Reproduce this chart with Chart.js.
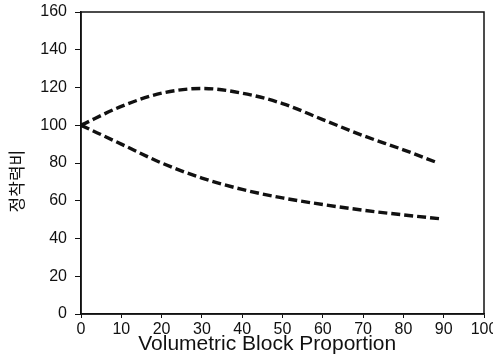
<!DOCTYPE html>
<html>
<head>
<meta charset="utf-8">
<script src="https://cdn.jsdelivr.net/npm/chart.js@4"></script>
<style>
html,body{margin:0;padding:0;background:#fff;}
#wrap{width:493px;height:363px;}
</style>
</head>
<body>
<div id="wrap"><canvas id="c" width="493" height="363"></canvas></div>
<script>
const upperX = [0, 10, 20, 30, 40, 50, 60, 70, 80, 88];
const upperY = [100, 110, 117, 119.5, 117, 111.5, 103, 94.5, 87, 80.5];
const lowerX = [0, 10, 20, 30, 40, 50, 60, 70, 80, 89];
const lowerY = [100, 90, 80, 72, 66, 61.5, 58, 55, 52.5, 50.5];
const xTitle = 'Volumetric Block Proportion';
const yTitle = '정착력비';

const toPts = (xs, ys) => xs.map((x, i) => ({x: x, y: ys[i]}));

const frame = {
  id: 'frame',
  afterDatasetsDraw(chart) {
    const {ctx, chartArea: a} = chart;
    ctx.save();
    ctx.strokeStyle = '#111';
    ctx.lineWidth = 1.5;
    ctx.strokeRect(a.left, a.top, a.right - a.left, a.bottom - a.top);
    ctx.fillStyle = '#111';
    // x-axis title
    ctx.font = '21px "Liberation Sans"';
    ctx.textAlign = 'center';
    ctx.textBaseline = 'middle';
    ctx.fillText(xTitle, a.left + 0.462 * (a.right - a.left), a.bottom + 30);
    // y-axis title
    ctx.translate(17, a.top + 0.56 * (a.bottom - a.top));
    ctx.rotate(-Math.PI / 2);
    ctx.font = '17px "Noto Sans CJK KR"';
    ctx.fillText(yTitle, 0, 0);
    ctx.restore();
  }
};

const lineStyle = {
  showLine: true, borderColor: '#111', borderWidth: 3.4, borderDash: [9, 4],
  pointRadius: 0, tension: 0.4, fill: false, cubicInterpolationMode: 'monotone'
};

new Chart(document.getElementById('c'), {
  type: 'scatter',
  data: {
    datasets: [
      Object.assign({data: toPts(upperX, upperY)}, lineStyle),
      Object.assign({data: toPts(lowerX, lowerY)}, lineStyle)
    ]
  },
  options: {
    responsive: false,
    animation: false,
    layout: {padding: {top: 12, right: 9, left: 0, bottom: 0}},
    plugins: {legend: {display: false}, tooltip: {enabled: false}},
    scales: {
      x: {
        type: 'linear', min: 0, max: 100,
        ticks: {stepSize: 10, color: '#111', padding: 2, maxRotation: 0,
                font: {family: 'Liberation Sans', size: 16}},
        grid: {display: true, drawOnChartArea: false, drawTicks: true, tickLength: 4, color: '#111'},
        border: {display: true, color: '#111', width: 1.5},
        title: {display: false},
        afterFit(s) { s.height = 49; s.paddingLeft = 0; s.paddingRight = 0; }
      },
      y: {
        min: 0, max: 160,
        ticks: {stepSize: 20, color: '#111', padding: 8,
                font: {family: 'Liberation Sans', size: 16}},
        grid: {display: true, drawOnChartArea: false, drawTicks: true, tickLength: 6, color: '#111'},
        border: {display: true, color: '#111', width: 1.5},
        title: {display: false},
        afterFit(s) { s.width = 81; s.paddingTop = 0; s.paddingBottom = 0; }
      }
    }
  },
  plugins: [frame]
});
</script>
</body>
</html>
